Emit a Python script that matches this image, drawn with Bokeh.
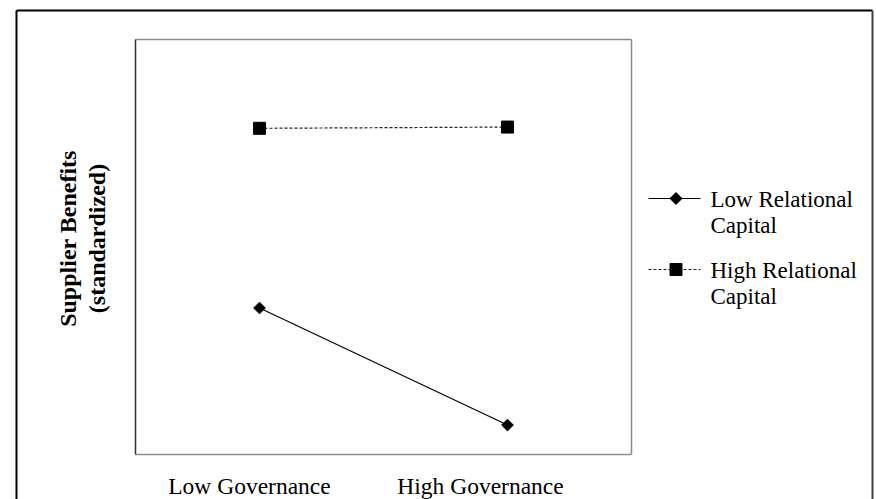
import math
from bokeh.plotting import figure
from bokeh.models import Range1d, ColumnDataSource
from bokeh.core.properties import value
from bokeh.embed import file_html
from bokeh.resources import INLINE

# ---- data (y in arbitrary standardized units, 0..10 = plot box) ----
categories = ["Low Governance", "High Governance"]
low_rc = [3.53, 0.71]
high_rc = [7.86, 7.89]
series_names = ["Low Relational\nCapital", "High Relational\nCapital"]
y_title = ["Supplier Benefits", "(standardized)"]

W, H = 876, 499
FONT = "Liberation Serif"

# plot box (axes area) spans x 0..2 and y 0..10; the page maps the whole canvas
BOX_L, BOX_R, BOX_T, BOX_B = 135, 631, 39, 454  # layout, pixels
XS = (BOX_R - BOX_L) / 2.0
YS = (BOX_B - BOX_T) / 10.0
x_range = Range1d(-BOX_L / XS, (W - BOX_L) / XS)
y_range = Range1d(-(H - BOX_B) / YS, BOX_B / YS)

p = figure(width=W, height=H, x_range=x_range, y_range=y_range,
           output_backend="svg", toolbar_location=None,
           min_border=0, min_border_left=0, min_border_right=0,
           min_border_top=0, min_border_bottom=0)
p.xaxis.visible = False
p.yaxis.visible = False
p.xgrid.visible = False
p.ygrid.visible = False
p.outline_line_color = None
p.background_fill_color = "white"
p.border_fill_color = "white"


def px_x(px):
    return (px - BOX_L) / XS


def px_y(py):
    return (BOX_B - py) / YS


# outer frame (left, top dark; right dark grey)
p.segment(x0=[px_x(16), px_x(16)], y0=[y_range.start, px_y(10)],
          x1=[px_x(16), px_x(872)], y1=[px_y(10), px_y(10)],
          line_color="black", line_width=2)
p.segment(x0=[px_x(872)], y0=[px_y(10)], x1=[px_x(872)], y1=[y_range.start],
          line_color="#404040", line_width=2)

# plot box: grey top/right/bottom, dark left
p.segment(x0=[0, 2, 0], y0=[10, 10, 0], x1=[2, 2, 2], y1=[10, 0, 0],
          line_color="#8c8c8c", line_width=1.5)
p.segment(x0=[0], y0=[0], x1=[0], y1=[10], line_color="#333333", line_width=1.5)

xpos = [i + 0.5 for i in range(len(categories))]
src = ColumnDataSource(dict(x=xpos, low=low_rc, high=high_rc))

p.line("x", "low", source=src, line_color="black", line_width=1.2)
p.scatter("x", "low", source=src, marker="square", angle=math.pi / 4,
          size=8.3, color="black")
p.line("x", "high", source=src, line_color="#222222", line_width=1.2,
       line_dash="3 2")
p.scatter("x", "high", source=src, marker="square", size=12, color="black")

# legend (drawn by hand so the sample sits beside the first label line)
LEG_X0, LEG_X1, LEG_MX, LEG_TX = 648, 700, 675.5, 710
leg_y = [198, 269]
p.segment(x0=[px_x(LEG_X0)], y0=[px_y(leg_y[0])], x1=[px_x(LEG_X1)],
          y1=[px_y(leg_y[0])], line_color="black", line_width=1.2)
p.scatter([px_x(LEG_MX)], [px_y(leg_y[0])], marker="square",
          angle=math.pi / 4, size=8.5, color="black")
p.segment(x0=[px_x(LEG_X0)], y0=[px_y(leg_y[1])], x1=[px_x(LEG_X1)],
          y1=[px_y(leg_y[1])], line_color="#222222", line_width=1.2,
          line_dash="3 2")
p.scatter([px_x(LEG_MX)], [px_y(leg_y[1])], marker="square", size=12,
          color="black")
p.text(x=[px_x(LEG_TX)] * 2, y=[px_y(yy + 14) for yy in leg_y],
       text=series_names, text_align="left", text_baseline="middle",
       text_font=value(FONT), text_font_size="23px", text_color="black",
       text_line_height=1.07)

# category labels under the plot box
p.text(x=[px_x(249), px_x(480)], y=[px_y(485)] * 2, text=categories,
       text_align="center", text_baseline="middle",
       text_font=value(FONT), text_font_size="23.5px", text_color="black")

# y title, two rotated bold lines
p.text(x=[px_x(67.5), px_x(96.5)], y=[px_y(238)] * 2, text=y_title,
       angle=math.pi / 2, text_align="center", text_baseline="middle",
       text_font=value(FONT), text_font_size="24px", text_font_style="bold",
       text_color="black")

open("out.html", "w").write(file_html(p, INLINE))
